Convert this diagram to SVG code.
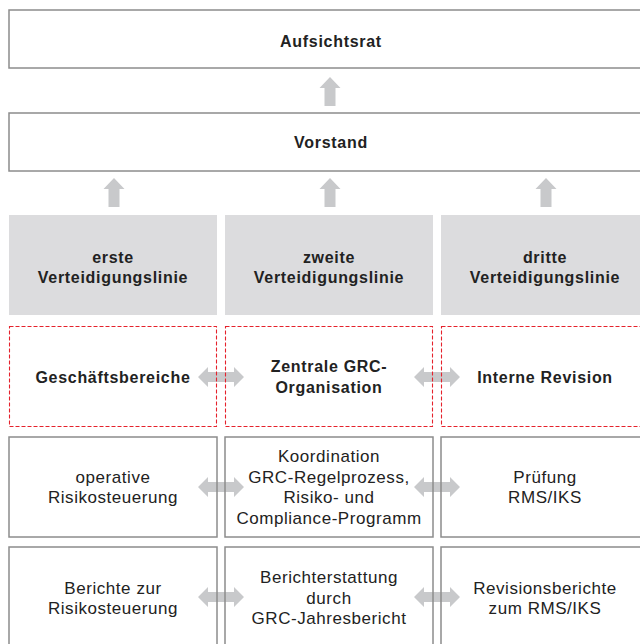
<svg xmlns="http://www.w3.org/2000/svg" xmlns:xlink="http://www.w3.org/1999/xlink" width="640" height="644" viewBox="0 0 640 644">
<style>
.bg{fill:#ffffff}
.box{fill:none;stroke:#8c8c8c;stroke-width:1.5}
.gray{fill:#dcdcde}
.dash{fill:none;stroke:#e5222c;stroke-width:1.1;stroke-dasharray:4 2}
.arr{fill:#c8c9cb}
text{font-family:"Liberation Sans",Arial,sans-serif;fill:#222;text-anchor:middle}
.b{font-weight:bold;font-size:16px;letter-spacing:0.7px}
.r{font-size:17px;letter-spacing:0.55px}
</style>
<defs>
<path id="up" d="M0,0 L10.5,11 L5.5,11 L5.5,29 L-5.5,29 L-5.5,11 L-10.5,11 Z"/>
<path id="lr" d="M-23,0 L-13,-10 L-13,-5 L13,-5 L13,-10 L23,0 L13,10 L13,5 L-13,5 L-13,10 Z"/>
</defs>
<rect class="bg" x="0" y="0" width="640" height="644"/>
<g id="connectors" class="arr">
<use xlink:href="#up" x="330" y="77"/>
<use xlink:href="#up" x="114" y="178"/>
<use xlink:href="#up" x="330" y="178"/>
<use xlink:href="#up" x="546" y="178"/>
<use xlink:href="#lr" x="221" y="377"/>
<use xlink:href="#lr" x="437" y="377"/>
<use xlink:href="#lr" x="221" y="487"/>
<use xlink:href="#lr" x="437" y="487"/>
<use xlink:href="#lr" x="221" y="597"/>
<use xlink:href="#lr" x="437" y="597"/>
</g>
<g id="aufsichtsrat">
<rect class="box" x="9" y="10" width="645" height="58"/>
<text class="b" x="331" y="47">Aufsichtsrat</text>
</g>
<g id="vorstand">
<rect class="box" x="9" y="113" width="645" height="58"/>
<text class="b" x="331" y="148">Vorstand</text>
</g>
<g id="linie1">
<rect class="gray" x="9" y="215" width="208" height="100"/>
<text class="b" x="113" y="263">erste</text>
<text class="b" x="113" y="283">Verteidigungslinie</text>
</g>
<g id="linie2">
<rect class="gray" x="225" y="215" width="208" height="100"/>
<text class="b" x="329" y="263">zweite</text>
<text class="b" x="329" y="283">Verteidigungslinie</text>
</g>
<g id="linie3">
<rect class="gray" x="441" y="215" width="210" height="100"/>
<text class="b" x="545" y="263">dritte</text>
<text class="b" x="545" y="283">Verteidigungslinie</text>
</g>
<g id="geschaeftsbereiche">
<rect class="dash" x="9.5" y="326.5" width="207" height="100"/>
<text class="b" x="113" y="383">Geschäftsbereiche</text>
</g>
<g id="grc-organisation">
<rect class="dash" x="225.5" y="326.5" width="207" height="100"/>
<text class="b" x="329" y="372">Zentrale GRC-</text>
<text class="b" x="329" y="393">Organisation</text>
</g>
<g id="interne-revision">
<rect class="dash" x="441.5" y="326.5" width="210" height="100"/>
<text class="b" x="545" y="383">Interne Revision</text>
</g>
<g id="operative">
<rect class="box" x="9" y="437" width="208" height="100"/>
<text class="r" x="113" y="483">operative</text>
<text class="r" x="113" y="503">Risikosteuerung</text>
</g>
<g id="koordination">
<rect class="box" x="225" y="437" width="208" height="100"/>
<text class="r" x="329" y="462">Koordination</text>
<text class="r" x="329" y="483">GRC-Regelprozess,</text>
<text class="r" x="329" y="503">Risiko- und</text>
<text class="r" x="329" y="524">Compliance-Programm</text>
</g>
<g id="pruefung">
<rect class="box" x="441" y="437" width="210" height="100"/>
<text class="r" x="545" y="483">Prüfung</text>
<text class="r" x="545" y="503">RMS/IKS</text>
</g>
<g id="berichte">
<rect class="box" x="9" y="547" width="208" height="110"/>
<text class="r" x="113" y="594">Berichte zur</text>
<text class="r" x="113" y="614">Risikosteuerung</text>
</g>
<g id="berichterstattung">
<rect class="box" x="225" y="547" width="208" height="110"/>
<text class="r" x="329" y="583">Berichterstattung</text>
<text class="r" x="329" y="604">durch</text>
<text class="r" x="329" y="624">GRC-Jahresbericht</text>
</g>
<g id="revisionsberichte">
<rect class="box" x="441" y="547" width="210" height="110"/>
<text class="r" x="545" y="594">Revisionsberichte</text>
<text class="r" x="545" y="614">zum RMS/IKS</text>
</g>
</svg>
